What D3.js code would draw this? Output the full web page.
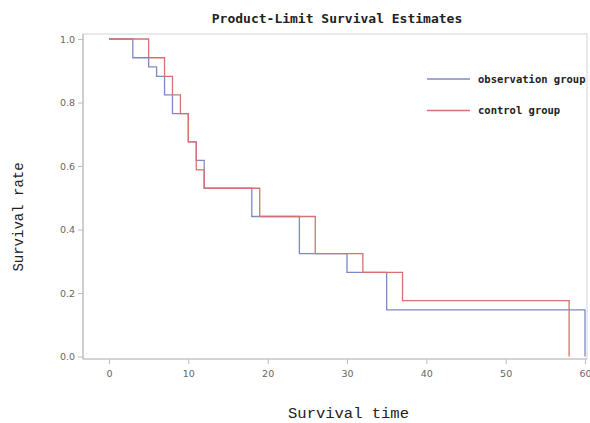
<!DOCTYPE html>
<html>
<head>
<meta charset="utf-8">
<script src="https://cdn.jsdelivr.net/npm/d3@7/dist/d3.min.js"></script>
<style>
  html, body { margin: 0; padding: 0; background: #fff; }
  svg { display: block; }
</style>
</head>
<body>
<svg id="chart" width="590" height="423"></svg>
<script>
// ---- data ----
const obsTimes    = [0, 3, 5, 6, 7, 8, 10, 11, 12, 18, 24, 30, 35, 60];
const obsSurvival = [1, 0.941, 0.912, 0.882, 0.824, 0.765, 0.676, 0.618, 0.53, 0.441, 0.324, 0.265, 0.147, 0];
const ctlTimes    = [0, 5, 7, 8, 9, 10, 11, 12, 19, 26, 32, 37, 58];
const ctlSurvival = [1, 0.941, 0.882, 0.824, 0.765, 0.676, 0.588, 0.53, 0.441, 0.324, 0.265, 0.176, 0];
const xTicks = [0, 10, 20, 30, 40, 50, 60];
const yTicks = [0, 0.2, 0.4, 0.6, 0.8, 1.0];
const seriesNames = ["observation group", "control group"];
const titleText = "Product-Limit Survival Estimates";
const xLabel = "Survival time";
const yLabel = "Survival rate";

// ---- layout ----
const svg = d3.select("#chart");
const frame = { left: 83, top: 34, right: 587, bottom: 359 };
const x = d3.scaleLinear().domain([0, 60]).range([109, 585]);
const y = d3.scaleLinear().domain([0, 1]).range([356.5, 39]);

const blue = "#7d89c6";
const red = "#d6726d";
const axisColor = "#bdbdbd";

// frame (top/right light)
svg.append("rect")
  .attr("x", frame.left).attr("y", frame.top)
  .attr("width", frame.right - frame.left).attr("height", frame.bottom - frame.top)
  .attr("fill", "none").attr("stroke", "#d4d4d4").attr("stroke-width", 1);

// axes
const yAxis = d3.axisLeft(y).tickValues(yTicks).tickFormat(d3.format(".1f")).tickSize(5).tickPadding(3);
const gy = svg.append("g").attr("transform", `translate(${frame.left},0)`).call(yAxis);
const xAxis = d3.axisBottom(x).tickValues(xTicks).tickFormat(d3.format("d")).tickSize(5).tickPadding(6);
const gx = svg.append("g").attr("transform", `translate(0,${frame.bottom})`).call(xAxis);
gx.select(".domain").remove();
gy.select(".domain").remove();
svg.append("line").attr("x1", frame.left).attr("x2", frame.left).attr("y1", frame.top).attr("y2", frame.bottom)
  .attr("stroke", axisColor).attr("stroke-width", 1.2);
svg.append("line").attr("x1", frame.left).attr("x2", frame.right).attr("y1", frame.bottom).attr("y2", frame.bottom)
  .attr("stroke", axisColor).attr("stroke-width", 1.2);
[gx, gy].forEach(g => {
  g.selectAll(".tick line").attr("stroke", axisColor);
  g.selectAll(".tick text").attr("fill", "#666").style("font-family", "DejaVu Sans, sans-serif").style("font-size", "9.5px");
});

// step lines
const line = d3.line().x(d => x(d[0])).y(d => y(d[1])).curve(d3.curveStepAfter);
const obsData = obsTimes.map((t, i) => [t, obsSurvival[i]]);
const ctlData = ctlTimes.map((t, i) => [t, ctlSurvival[i]]);
svg.append("path").datum(obsData).attr("d", line).attr("fill", "none").attr("stroke", blue).attr("stroke-width", 1.3);
svg.append("path").datum(ctlData).attr("d", line).attr("fill", "none").attr("stroke", red).attr("stroke-width", 1.3);

// legend
const legendColors = [blue, red];
const legendY = [79, 110.5];
seriesNames.forEach((name, i) => {
  svg.append("line").attr("x1", 427).attr("x2", 470).attr("y1", legendY[i]).attr("y2", legendY[i])
    .attr("stroke", legendColors[i]).attr("stroke-width", 1.3);
  svg.append("text").attr("x", 478).attr("y", legendY[i]).attr("dy", "0.35em")
    .style("font-family", "DejaVu Sans Mono, monospace").style("font-size", "10.5px").style("font-weight", "bold")
    .attr("fill", "#222").text(name);
});

// title
svg.append("text").attr("x", 337).attr("y", 18).attr("dy", "0.35em").attr("text-anchor", "middle")
  .style("font-family", "DejaVu Sans Mono, monospace").style("font-size", "13px").style("font-weight", "bold")
  .attr("fill", "#222").text(titleText);

// axis labels
svg.append("text").attr("x", 348.5).attr("y", 413).attr("dy", "0.35em").attr("text-anchor", "middle")
  .style("font-family", "Liberation Mono, monospace").style("font-size", "15.5px")
  .attr("fill", "#222").text(xLabel);
svg.append("text").attr("transform", "translate(18,217) rotate(-90)").attr("dy", "0.35em").attr("text-anchor", "middle")
  .style("font-family", "Liberation Mono, monospace").style("font-size", "14px")
  .attr("fill", "#222").text(yLabel);
</script>
</body>
</html>
